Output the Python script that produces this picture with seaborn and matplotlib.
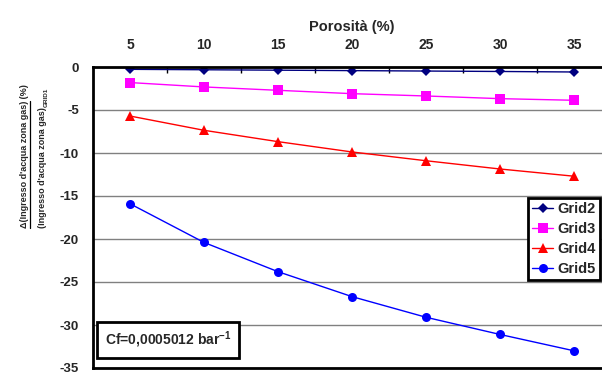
import numpy as np
import pandas as pd
import seaborn as sns
import matplotlib.pyplot as plt
from matplotlib.lines import Line2D

porosita = [5, 10, 15, 20, 25, 30, 35]
grid2 = [-0.27, -0.32, -0.37, -0.42, -0.47, -0.52, -0.58]
grid3 = [-1.81, -2.32, -2.71, -3.10, -3.37, -3.68, -3.87]
grid4 = [-5.70, -7.36, -8.68, -9.88, -10.90, -11.86, -12.70]
grid5 = [-15.9, -20.4, -23.8, -26.7, -29.1, -31.1, -33.0]
serie = ["Grid2", "Grid3", "Grid4", "Grid5"]
yticks = [0, -5, -10, -15, -20, -25, -30, -35]

sns.set_style("white")
plt.rcParams["font.family"] = ["Liberation Sans", "DejaVu Sans"]
plt.rcParams["font.weight"] = "bold"
plt.rcParams["axes.unicode_minus"] = False
plt.rcParams["mathtext.fontset"] = "custom"
plt.rcParams["mathtext.rm"] = "Liberation Sans:bold"
plt.rcParams["mathtext.bf"] = "Liberation Sans:bold"
plt.rcParams["mathtext.default"] = "rm"

W, H = 602, 374
fig = plt.figure(figsize=(W / 100, H / 100), dpi=100)
ax = fig.add_axes([93 / W, 6 / H, 518 / W, 301 / H])

df = pd.DataFrame({
    "Porosita": porosita * 4,
    "valore": grid2 + grid3 + grid4 + grid5,
    "serie": np.repeat(serie, len(porosita)),
})
colori = ["#000080", "#FF00FF", "#FF0000", "#0000FF"]
marker = ["D", "s", "^", "o"]
msize = [5, 7, 7, 6.5]
for s, c, m, ms in zip(serie, colori, marker, msize):
    sns.lineplot(data=df[df.serie == s], x="Porosita", y="valore", color=c,
                 marker=m, markersize=ms, markeredgewidth=0, linewidth=1,
                 label=s, ax=ax)

ax.set_xlim(2.5, 37.5)
ax.set_ylim(-35, 0)
ax.xaxis.tick_top()
ax.xaxis.set_label_position("top")
ax.set_xticks(porosita)
ax.set_xticks(np.arange(7.5, 37.5, 5), minor=True)
ax.tick_params(axis="x", which="major", length=0, pad=11, labelsize=10)
ax.tick_params(axis="x", which="minor", top=True, bottom=False, direction="in",
               length=4, width=1, color="black")
ax.set_yticks(yticks)
ax.tick_params(axis="y", length=0, pad=10, labelsize=9.5)
ax.yaxis.grid(True, color="#808080", linewidth=1)
ax.xaxis.grid(False)
ax.set_xlabel("Porosità (%)", fontsize=10.5, fontweight="bold", labelpad=5)
ax.set_ylabel("")
for sp in ax.spines.values():
    sp.set_linewidth(2)
    sp.set_color("black")

leg = ax.legend(loc="upper right", bbox_to_anchor=(600 / W, 1 - 198 / H),
                bbox_transform=fig.transFigure, borderaxespad=0, fancybox=False,
                framealpha=1, edgecolor="black", fontsize=10.5, handlelength=1.4,
                handletextpad=0.3, labelspacing=0.4, borderpad=0.3)
leg.get_frame().set_linewidth(2)

fig.text(168 / W, 1 - 340 / H, "Cf=0,0005012 bar$^{-1}$", ha="center", va="center",
         fontsize=10, bbox=dict(boxstyle="square,pad=0.55", fc="white", ec="black", lw=2))

# etichetta asse y in due righe, la prima sottolineata (frazione)
fs = 6.5
y0 = (H - 228) / H
t1 = fig.text(27 / W, y0, "Δ(Ingresso d'acqua zona gas)", rotation=90,
              rotation_mode="anchor", ha="left", va="baseline", fontsize=fs)
t3 = fig.text(45 / W, y0, "(Ingresso d'acqua zona gas)", rotation=90,
              rotation_mode="anchor", ha="left", va="baseline", fontsize=fs)
fig.canvas.draw()
bb = t1.get_window_extent()
bb3 = t3.get_window_extent()
fig.text(27 / W, bb.y1 / H, " (%)", rotation=90, rotation_mode="anchor",
         ha="left", va="baseline", fontsize=fs)
fig.text(47.5 / W, bb3.y1 / H, "GRID1", rotation=90, rotation_mode="anchor",
         ha="left", va="baseline", fontsize=fs * 0.7)
fig.add_artist(Line2D([29.5 / W, 29.5 / W], [bb.y0 / H, bb.y1 / H], color="black",
                      linewidth=0.9, transform=fig.transFigure))

fig.savefig("out.png", dpi=100)
